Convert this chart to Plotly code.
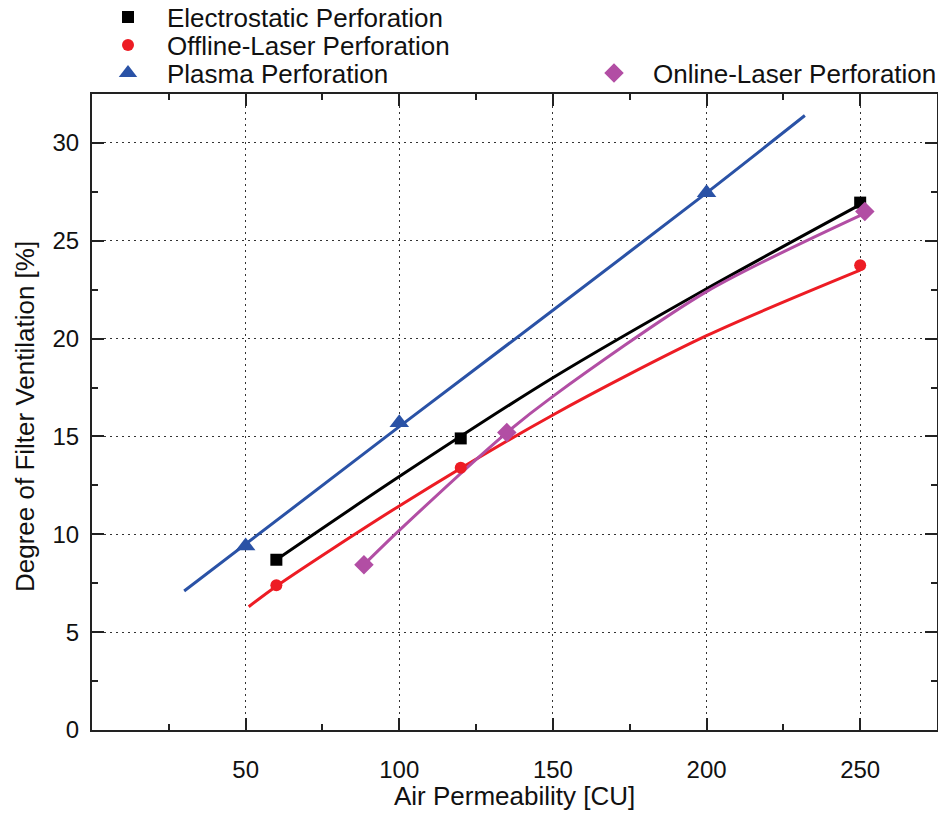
import plotly.graph_objects as go

# ---- measured points (markers) ----
elec_x = [60, 120, 250]
elec_y = [8.7, 14.9, 26.95]
off_x = [60, 120, 250]
off_y = [7.4, 13.4, 23.75]
plas_x = [50, 100, 200]
plas_y = [9.4, 15.7, 27.45]
onl_x = [88.5, 135, 251.5]
onl_y = [8.45, 15.2, 26.5]

# ---- fitted curves ----
elec_fit_x = [60, 100, 150, 200, 250]
elec_fit_y = [8.7, 12.95, 18.0, 22.55, 26.85]
off_fit_x = [51, 60, 100, 150, 200, 250]
off_fit_y = [6.3, 7.35, 11.45, 16.1, 20.15, 23.5]
plas_fit_x = [30, 100, 150, 200, 232]
plas_fit_y = [7.1, 15.5, 21.45, 27.45, 31.4]
onl_fit_x = [88.5, 100, 135, 150, 200, 251.5]
onl_fit_y = [8.45, 10.2, 15.2, 17.05, 22.4, 26.4]

names = ["Electrostatic Perforation", "Offline-Laser Perforation",
         "Plasma Perforation", "Online-Laser Perforation"]
colors = ["#000000", "#ed1c24", "#2a52a6", "#b24ea4"]
symbols = ["square", "circle", "triangle-up", "diamond"]
msizes = [12, 12, 17, 15]
legend_ids = ["legend", "legend2", "legend3", "legend4"]

pts = [(elec_x, elec_y), (off_x, off_y), (plas_x, plas_y), (onl_x, onl_y)]
fits = [(elec_fit_x, elec_fit_y), (off_fit_x, off_fit_y),
        (plas_fit_x, plas_fit_y), (onl_fit_x, onl_fit_y)]

fig = go.Figure()
for i in range(4):
    fx, fy = fits[i]
    fig.add_trace(go.Scatter(x=fx, y=fy, mode="lines",
                             line=dict(color=colors[i], width=3, shape="spline", smoothing=0.8),
                             showlegend=False, hoverinfo="skip"))
for i in range(4):
    px, py = pts[i]
    fig.add_trace(go.Scatter(x=px, y=py, mode="markers", name=names[i],
                             marker=dict(symbol=symbols[i], size=msizes[i], color=colors[i]),
                             legend=legend_ids[i]))

FONT = "Liberation Sans, Arial"
axis_common = dict(
    showline=True, linecolor="#222222", linewidth=2, mirror="ticks",
    ticks="inside", ticklen=12, tickwidth=2, tickcolor="#222222",
    showgrid=True, gridcolor="#333333", gridwidth=1, griddash="2px,4px",
    zeroline=False, automargin=False,
    tickfont=dict(family=FONT, size=24, color="#111111"),
)

fig.update_xaxes(range=[0, 275], tickvals=[50, 100, 150, 200, 250],
                 ticklabelstandoff=17,
                 minor=dict(ticks="inside", ticklen=6, tickwidth=2, tickcolor="#222222",
                            dtick=25, tick0=0, showgrid=False),
                 **axis_common)
fig.update_yaxes(range=[0, 32.5], tickvals=[0, 5, 10, 15, 20, 25, 30],
                 ticklabelstandoff=6,
                 minor=dict(ticks="inside", ticklen=6, tickwidth=2, tickcolor="#222222",
                            dtick=2.5, tick0=0, showgrid=False),
                 **axis_common)

W, H = 938, 813
# axis titles as annotations
fig.add_annotation(text="Air Permeability [CU]", xref="paper", yref="paper",
                   x=0.5, y=-(796 - 730) / 636, xanchor="center", yanchor="middle",
                   showarrow=False, borderpad=0,
                   font=dict(family=FONT, size=26, color="#111111"))
fig.add_annotation(text="Degree of Filter Ventilation [%]", xref="paper", yref="paper",
                   x=-(92 - 25) / 845, y=(730 - 417) / 636, xanchor="center", yanchor="middle",
                   textangle=-90, showarrow=False, borderpad=0,
                   font=dict(family=FONT, size=26, color="#111111"))

legend_font = dict(family=FONT, size=26, color="#111111")
# marker centre positions (px) of each legend entry in the reference
leg_pos = [(125, 17), (125, 45), (125, 73), (611, 73)]
layout_legends = {}
for i, lid in enumerate(legend_ids):
    mx, my = leg_pos[i]
    layout_legends[lid] = dict(xref="container", yref="container",
                               x=(mx - 36) / W, y=1 - my / H,
                               xanchor="left", yanchor="middle", font=legend_font,
                               bgcolor="rgba(0,0,0,0)", itemwidth=68)

fig.update_layout(
    width=W, height=H,
    margin=dict(l=92, r=1, t=94, b=83, autoexpand=False),
    paper_bgcolor="white", plot_bgcolor="white",
    **layout_legends,
)

fig.write_html("out.html")
